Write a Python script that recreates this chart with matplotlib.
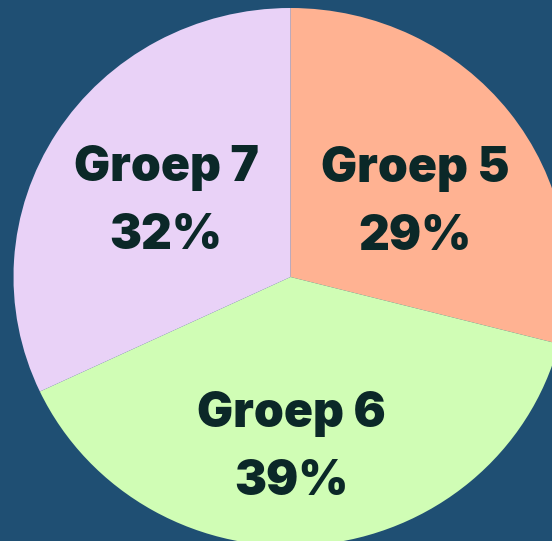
import matplotlib
matplotlib.use("Agg")
import matplotlib.pyplot as plt

# data
groups = ["Groep 5", "Groep 6", "Groep 7"]
shares = [29, 39, 32]
colors = ["#FFB292", "#D0FDB5", "#E9D2F7"]
bg = "#1F4F73"
txt = "#0B2828"

plt.rcParams['font.family'] = ['Inter', 'DejaVu Sans']

fig = plt.figure(figsize=(5.52, 5.41), dpi=100, facecolor=bg)
ax = fig.add_axes([0, 0, 1, 1])
ax.set_facecolor(bg)

wedges, _ = ax.pie(shares, colors=colors, startangle=90, counterclock=False,
                   wedgeprops=dict(linewidth=0))

# pie is slightly squashed in the original -> pixel mapping
cx, cy, rx, ry = 290.5, 277, 277, 269
ax.set_aspect('auto')
ax.set_xlim(-cx / rx, (552 - cx) / rx)
ax.set_ylim((cy - 541) / ry, cy / ry)
ax.axis('off')

# label centres (pixels)
label_pos = [(415, 203), (291, 448), (166, 202)]
for (px, py), g, s in zip(label_pos, groups, shares):
    ax.text((px - cx) / rx, (cy - py) / ry, f"{g}\n{s}%", ha='center', va='center',
            fontsize=34.5, fontweight='black', color=txt, linespacing=1.6)

fig.savefig("out.png", dpi=100, facecolor=bg)
